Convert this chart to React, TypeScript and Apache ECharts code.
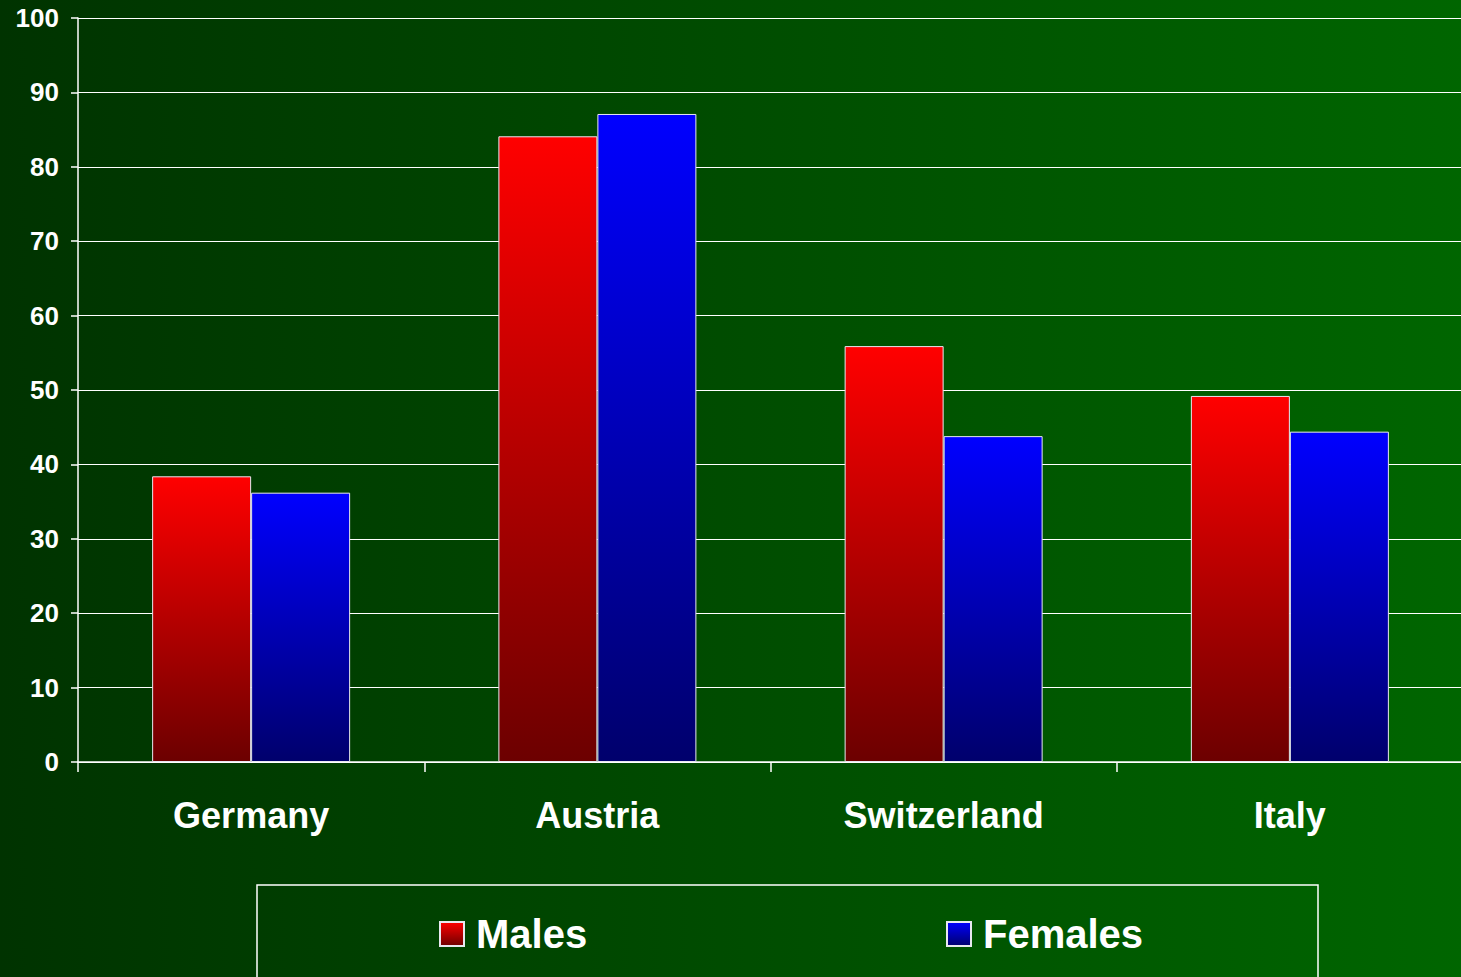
import React, { useEffect, useRef } from "react";
import * as echarts from "echarts";

const countries = ["Germany", "Austria", "Switzerland", "Italy"];
const males = [38.4, 84.1, 55.9, 49.2];
const females = [36.2, 87.1, 43.8, 44.4];
const yTicks = { min: 0, max: 100, interval: 10 };

const FONT = "Arial, 'Liberation Sans', sans-serif";

function vGrad(top: string, bottom: string) {
  return new echarts.graphic.LinearGradient(0, 0, 0, 1, [
    { offset: 0, color: top },
    { offset: 1, color: bottom },
  ]);
}

export default function App() {
  const ref = useRef<HTMLDivElement>(null);

  useEffect(() => {
    if (!ref.current) return;
    const chart = echarts.init(ref.current, undefined, { renderer: "svg" });
    const legendText = {
      color: "#ffffff",
      fontSize: 40,
      fontWeight: "bold" as const,
      fontFamily: FONT,
      lineHeight: 44,
      padding: [0, 0, 0, 7],
    };
    const legendBase = {
      top: 907,
      icon: "rect",
      itemWidth: 24,
      itemHeight: 24,
      itemGap: 12,
      textStyle: legendText,
    };
    chart.setOption({
      animation: false,
      backgroundColor: new echarts.graphic.LinearGradient(0, 0, 1, 0, [
        { offset: 0, color: "#003300" },
        { offset: 1, color: "#006600" },
      ]),
      grid: { left: 78, top: 18, width: 1385, height: 744, containLabel: false },
      graphic: [
        {
          type: "rect",
          shape: { x: 257, y: 885, width: 1061, height: 120 },
          style: { fill: "none", stroke: "#ffffff", lineWidth: 1.5 },
          silent: true,
        },
      ],
      legend: [
        { ...legendBase, data: ["Males"], left: 434 },
        { ...legendBase, data: ["Females"], left: 941 },
      ],
      xAxis: {
        type: "category",
        data: countries,
        axisLine: { lineStyle: { color: "#ffffff", width: 1.5 } },
        axisTick: { show: true, length: 10, lineStyle: { color: "#ffffff", width: 1.5 } },
        axisLabel: {
          color: "#ffffff",
          fontSize: 36,
          fontWeight: "bold",
          fontFamily: FONT,
          margin: 35,
        },
      },
      yAxis: {
        type: "value",
        min: yTicks.min,
        max: yTicks.max,
        interval: yTicks.interval,
        axisLine: { show: true, lineStyle: { color: "#ffffff", width: 1.5 } },
        axisTick: { show: true, length: 7, lineStyle: { color: "#ffffff", width: 1.5 } },
        splitLine: { lineStyle: { color: "#ffffff", width: 1.2 } },
        axisLabel: {
          color: "#ffffff",
          fontSize: 26,
          fontWeight: "bold",
          fontFamily: FONT,
          margin: 19,
        },
      },
      series: [
        {
          name: "Males",
          type: "bar",
          data: males,
          barWidth: 99,
          barGap: "0%",
          itemStyle: {
            color: vGrad("#ff0000", "#6c0000"),
            borderColor: "#e8e8f0",
            borderWidth: 1,
          },
        },
        {
          name: "Females",
          type: "bar",
          data: females,
          barWidth: 99,
          barGap: "0%",
          itemStyle: {
            color: vGrad("#0000ff", "#00006c"),
            borderColor: "#e8e8f0",
            borderWidth: 1,
          },
        },
      ],
    });
    return () => chart.dispose();
  }, []);

  // The plot runs a few pixels past the right edge, so the canvas is a
  // little wider than the visible frame that clips it.
  return (
    <div
      style={{
        position: "fixed",
        left: 0,
        top: 0,
        width: 1461,
        height: 977,
        overflow: "hidden",
        background: "#006600",
      }}
    >
      <div ref={ref} style={{ width: 1468, height: 977 }} />
    </div>
  );
}
